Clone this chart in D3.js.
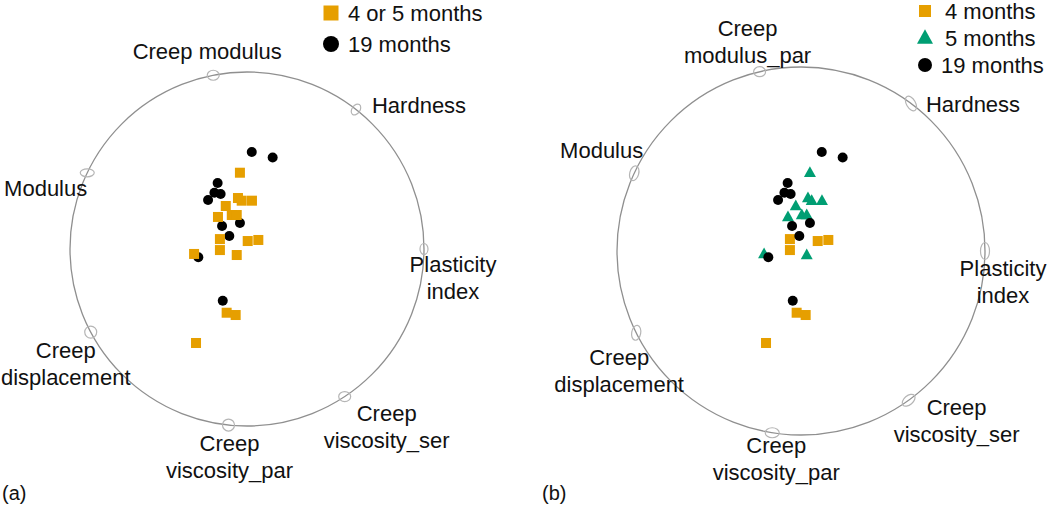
<!DOCTYPE html>
<html>
<head>
<meta charset="utf-8">
<script src="https://cdn.jsdelivr.net/npm/d3@7"></script>
<style>
  body { margin: 0; background: #fff; }
  svg text { font-family: "Liberation Sans", Arial, sans-serif; fill: #111; }
</style>
</head>
<body>
<div id="chart"></div>
<script>
// ---- data ----
// variable directions (degrees clockwise from top) for each panel
const variablesA = ["Creep modulus", "Hardness", "Plasticity index", "Creep viscosity_ser",
                    "Creep viscosity_par", "Creep displacement", "Modulus"];
const anglesA = [349, 38, 90, 146.5, 186, 242, 295.5];
const variablesB = ["Creep modulus_par", "Hardness", "Plasticity index", "Creep viscosity_ser",
                    "Creep viscosity_par", "Creep displacement", "Modulus"];
const anglesB = [347, 36.7, 90, 144.2, 189, 243.6, 295];

// sample scores [x, y]
const months4 = [[-0.153, 0.056], [-0.153, -0.006], [0.004, 0.045], [0.064, 0.051],
                 [-0.115, -0.360], [-0.064, -0.373], [-0.288, -0.531]];
const months5 = [[-0.040, 0.431], [-0.051, 0.288], [-0.030, 0.273], [0.028, 0.273],
                 [-0.120, 0.243], [-0.164, 0.181], [-0.086, 0.192], [-0.058, 0.192],
                 [-0.299, -0.028], [-0.058, -0.034]];
const months19 = [[0.027, 0.548], [0.145, 0.517], [-0.166, 0.373], [-0.184, 0.318],
                  [-0.149, 0.311], [-0.220, 0.277], [-0.141, 0.130], [-0.040, 0.147],
                  [-0.100, 0.073], [-0.275, -0.047], [-0.137, -0.292]];

const legendA = ["4 or 5 months", "19 months"];
const legendB = ["4 months", "5 months", "19 months"];

// ---- layout ----
const W = 1050, H = 509;
const orange = "#E69F00", green = "#009E73", black = "#000";
const fontSize = 22;

const svg = d3.select("#chart").append("svg")
    .attr("width", W)
    .attr("height", H);

// label layout per variable: offsets from the ellipse mark, anchor
const labelLayoutA = [
  {lines: ["Creep modulus"], dx: -6, dy: -16, anchor: "middle"},
  {lines: ["Hardness"], dx: 16, dy: 3, anchor: "start"},
  {lines: ["Plasticity", "index"], dx: 29, dy: 23, anchor: "middle"},
  {lines: ["Creep", "viscosity_ser"], dx: 42, dy: 24, anchor: "middle"},
  {lines: ["Creep", "viscosity_par"], dx: 1, dy: 26, anchor: "middle"},
  {lines: ["Creep", "displacement"], dx: -25, dy: 26, anchor: "middle"},
  {lines: ["Modulus"], dx: 0, dy: 23, anchor: "end"}
];
const labelLayoutB = [
  {lines: ["Creep", "modulus_par"], dx: -12, dy: -36, anchor: "middle"},
  {lines: ["Hardness"], dx: 15, dy: 9, anchor: "start"},
  {lines: ["Plasticity", "index"], dx: 18, dy: 25, anchor: "middle"},
  {lines: ["Creep", "viscosity_ser"], dx: 48, dy: 15, anchor: "middle"},
  {lines: ["Creep", "viscosity_par"], dx: 4, dy: 20, anchor: "middle"},
  {lines: ["Creep", "displacement"], dx: -17, dy: 32, anchor: "middle"},
  {lines: ["Modulus"], dx: 9, dy: -15, anchor: "end"}
];

function drawPanel(opt) {
    const g = svg.append("g");
    const unit = 177;
    const x = d3.scaleLinear().domain([-1, 1]).range([opt.ox - unit, opt.ox + unit]);
    const y = d3.scaleLinear().domain([-1, 1]).range([opt.oy + unit, opt.oy - unit]);

    // unit circle
    g.append("circle")
        .attr("cx", opt.cx)
        .attr("cy", opt.cy)
        .attr("r", opt.r)
        .attr("fill", "none")
        .attr("stroke", "#8f8f8f")
        .attr("stroke-width", 1.3);

    const rad = d3.scaleLinear().domain([0, 360]).range([0, 2 * Math.PI]);
    const vars = opt.angles.map((a, i) => ({
        name: opt.names[i],
        px: opt.cx + opt.r * Math.sin(rad(a)),
        py: opt.cy - opt.r * Math.cos(rad(a)),
        ell: opt.ellipses[i],
        lab: opt.labels[i]
    }));

    // variable markers on circle
    g.selectAll("ellipse.varMark").data(vars)
        .enter()
        .append("ellipse")
        .attr("class", "varMark")
        .attr("transform", d => "translate(" + d.px + "," + d.py + ") rotate(" + d.ell[2] + ")")
        .attr("rx", d => d.ell[0])
        .attr("ry", d => d.ell[1])
        .attr("fill", "none")
        .attr("stroke", "#b5b5b5")
        .attr("stroke-width", 1.2);

    // variable labels
    const lab = g.selectAll("text.varLabel").data(vars)
        .enter()
        .append("text")
        .attr("class", "varLabel")
        .attr("font-size", fontSize)
        .attr("text-anchor", d => d.lab.anchor)
        .attr("x", d => d.px + d.lab.dx)
        .attr("y", d => d.py + d.lab.dy);
    lab.selectAll("tspan")
        .data(d => d.lab.lines.map((t, i) => ({t, i, x: d.px + d.lab.dx})))
        .enter()
        .append("tspan")
        .attr("x", d => d.x)
        .attr("dy", d => d.i === 0 ? 0 : 27)
        .text(d => d.t);

    // points
    opt.series.forEach(s => drawMarks(g, s.data, s.shape, s.color, x, y, s.size));

    // legend
    const lg = g.append("g");
    opt.legend.forEach((item, i) => {
        const ly = opt.legendY + i * opt.legendStep;
        drawSymbol(lg, opt.legendX, ly, item.shape, item.color, item.size);
        lg.append("text")
            .attr("x", opt.legendX + item.gap)
            .attr("y", ly)
            .attr("dy", "0.36em")
            .attr("font-size", fontSize)
            .text(item.label);
    });

    // panel tag
    g.append("text")
        .attr("x", opt.tagX)
        .attr("y", 500)
        .attr("font-size", 20)
        .text(opt.tag);
}

function drawSymbol(g, cx, cy, shape, color, size) {
    if (shape === "square") {
        g.append("rect")
            .attr("x", cx - size / 2).attr("y", cy - size / 2)
            .attr("width", size).attr("height", size)
            .attr("fill", color);
    } else if (shape === "triangle") {
        const h = size * 0.9;
        g.append("path")
            .attr("d", "M" + cx + "," + (cy - h * 0.6) + "L" + (cx + size / 2) + "," + (cy + h * 0.4) +
                       "L" + (cx - size / 2) + "," + (cy + h * 0.4) + "Z")
            .attr("fill", color);
    } else {
        g.append("circle")
            .attr("cx", cx).attr("cy", cy).attr("r", size / 2)
            .attr("fill", color);
    }
}

function drawMarks(g, data, shape, color, x, y, size) {
    data.forEach(d => drawSymbol(g, x(d[0]), y(d[1]), shape, color, size));
}

drawPanel({
    ox: 247, oy: 249, cx: 247, cy: 249, r: 177,
    names: variablesA, angles: anglesA, labels: labelLayoutA,
    ellipses: [[6, 5, 0], [4, 6, 35], [4, 5.5, 0], [6, 5, 0], [6, 6, 0], [6, 6, 0], [7, 4, 0]],
    series: [
        {data: months19, shape: "circle", color: black, size: 10},
        {data: months4.concat(months5), shape: "square", color: orange, size: 10}
    ],
    legend: [
        {label: legendA[0], shape: "square", color: orange, size: 15, gap: 17},
        {label: legendA[1], shape: "circle", color: black, size: 16, gap: 17}
    ],
    legendX: 331, legendY: 13, legendStep: 31,
    tag: "(a)", tagX: 2
});

drawPanel({
    ox: 817, oy: 249, cx: 801, cy: 251, r: 184,
    names: variablesB, angles: anglesB, labels: labelLayoutB,
    ellipses: [[6, 5, 0], [4.5, 8, -30], [4.5, 8.5, 0], [4.5, 7.5, 50], [7, 5, 0], [4.5, 7.5, 10], [4.5, 7.5, 15]],
    series: [
        {data: months4, shape: "square", color: orange, size: 10},
        {data: months5, shape: "triangle", color: green, size: 12},
        {data: months19, shape: "circle", color: black, size: 10}
    ],
    legend: [
        {label: legendB[0], shape: "square", color: orange, size: 12, gap: 20},
        {label: legendB[1], shape: "triangle", color: green, size: 16, gap: 20},
        {label: legendB[2], shape: "circle", color: black, size: 14, gap: 16}
    ],
    legendX: 925, legendY: 11, legendStep: 27,
    tag: "(b)", tagX: 542
});
</script>
</body>
</html>
